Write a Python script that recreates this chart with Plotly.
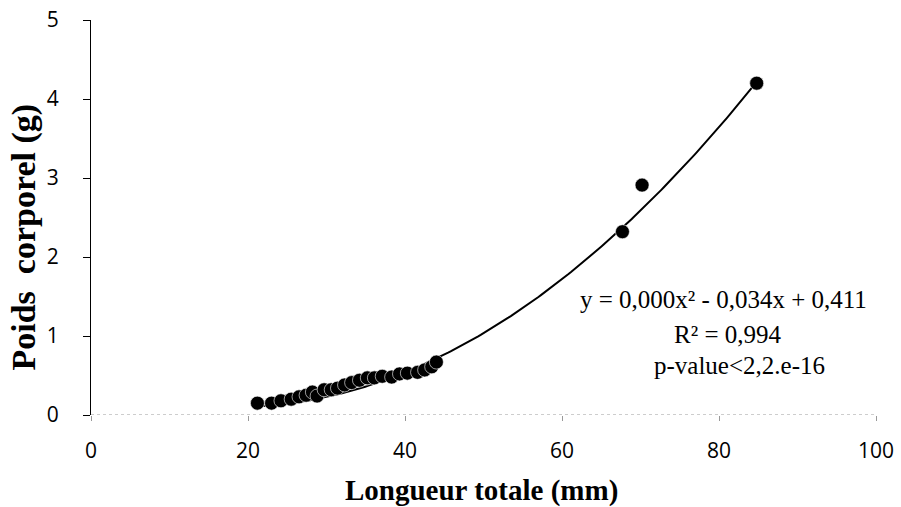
import numpy as np
import plotly.graph_objects as go

# Data
length_mm = [21.2, 23.0, 24.2, 25.5, 26.5, 27.4, 28.2, 28.8, 29.7, 30.6, 31.4, 32.3,
             33.2, 34.2, 35.2, 36.1, 37.1, 38.3, 39.3, 40.3, 41.6, 42.5, 43.4, 44.0,
             67.7, 70.2, 84.8]
weight_g = [0.15, 0.15, 0.18, 0.20, 0.23, 0.25, 0.29, 0.24, 0.32, 0.32, 0.34, 0.38,
            0.41, 0.44, 0.47, 0.47, 0.49, 0.48, 0.52, 0.53, 0.54, 0.57, 0.61, 0.67,
            2.32, 2.91, 4.20]

# Polynomial trendline coefficients (order 2), as shown in the equation label
coef_a = 0.00093
coef_b = -0.034
coef_c = 0.411

x_ticks = [0, 20, 40, 60, 80, 100]
y_ticks = [0, 1, 2, 3, 4, 5]

eq_lines = ["y = 0,000x² - 0,034x + 0,411", "R² = 0,994", "p-value<2,2.e-16"]
x_title = "Longueur totale (mm)"
y_title = "Poids  corporel (g)"

xs = np.linspace(min(length_mm), max(length_mm), 200)
ys = coef_a * xs**2 + coef_b * xs + coef_c

fig = go.Figure()
fig.add_trace(go.Scatter(x=xs, y=ys, mode="lines",
                         line=dict(color="black", width=2), hoverinfo="skip",
                         showlegend=False))
fig.add_trace(go.Scatter(x=length_mm, y=weight_g, mode="markers",
                         marker=dict(color="black", size=14,
                                     line=dict(color="white", width=0.6)),
                         showlegend=False))

# faint dotted x axis line
fig.add_shape(type="line", xref="x", yref="y", x0=0, x1=100, y0=0, y1=0,
              line=dict(color="#9a9a9a", width=1, dash="dot"))

ann_y = [0.292, 0.205, 0.125]
ann_x = [0.806, 0.811, 0.826]
for t, ax_, ay_ in zip(eq_lines, ann_x, ann_y):
    fig.add_annotation(text=t, xref="paper", yref="paper", x=ax_, y=ay_,
                       showarrow=False, xanchor="center", yanchor="middle",
                       font=dict(family="Liberation Serif", size=25, color="black"))

fig.add_annotation(text="<b>" + x_title + "</b>", xref="paper", yref="paper",
                   x=0.497, y=-0.19, showarrow=False, xanchor="center",
                   yanchor="middle",
                   font=dict(family="Liberation Serif", size=29, color="black"))
fig.add_annotation(text="<b>" + y_title + "</b>", xref="paper", yref="paper",
                   x=-0.085, y=0.45, showarrow=False, textangle=-90,
                   xanchor="center", yanchor="middle",
                   font=dict(family="Liberation Serif", size=34, color="black"))

fig.update_xaxes(range=[0, 100], tickvals=x_ticks, showgrid=False, zeroline=False,
                 showline=False, ticks="outside", ticklen=5, tickcolor="#999",
                 ticklabelstandoff=12, automargin=False,
                 tickfont=dict(family="Open Sans", size=21, color="black"))
fig.update_yaxes(range=[0, 5], tickvals=y_ticks, showgrid=False, zeroline=False,
                 showline=True, linecolor="black", linewidth=1,
                 ticks="outside", ticklen=7, tickcolor="black",
                 ticklabelstandoff=20, automargin=False,
                 tickfont=dict(family="Open Sans", size=21, color="black"))

fig.update_layout(width=901, height=507, plot_bgcolor="white",
                  paper_bgcolor="white",
                  margin=dict(l=91, r=25, t=20, b=92))

fig.write_html("out.html", config={"displayModeBar": False},
               post_script="document.body.style.margin='0';"
                           "document.body.style.overflow='hidden';")
